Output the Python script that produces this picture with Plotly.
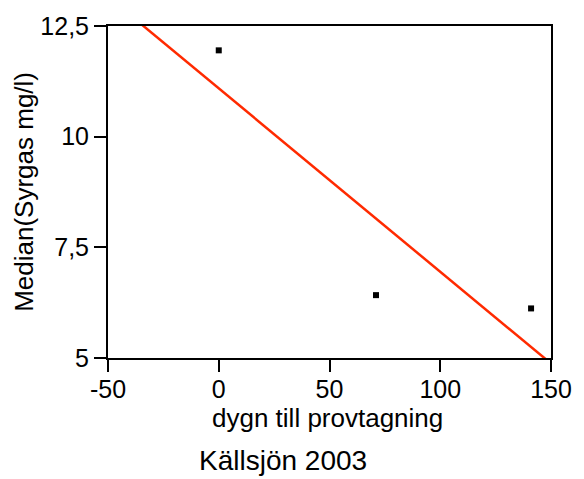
import numpy as np
import plotly.graph_objects as go

# Median dissolved oxygen vs. days until sampling
days = [0, 71, 141]
oxygen = [11.95, 6.42, 6.12]

x_ticks = [-50, 0, 50, 100, 150]
y_ticks = [5, 7.5, 10, 12.5]
y_tick_text = ["5", "7,5", "10", "12,5"]

# Least-squares trend line through the medians
slope, intercept = np.polyfit(days, oxygen, 1)
fit_x = np.array([-50, 150])
fit_y = slope * fit_x + intercept

font = "Liberation Sans, Arial, Helvetica, sans-serif"

fig = go.Figure()
fig.add_trace(go.Scatter(
    x=fit_x, y=fit_y, mode="lines",
    line=dict(color="#ff2a00", width=2.5),
    hoverinfo="skip", showlegend=False,
))
fig.add_trace(go.Scatter(
    x=days, y=oxygen, mode="markers",
    marker=dict(symbol="square", size=6, color="black"),
    showlegend=False,
))

axis_common = dict(
    showgrid=False, zeroline=False,
    showline=True, linecolor="black", linewidth=2, mirror=True,
    ticks="outside", ticklen=12, tickwidth=2, tickcolor="black",
    tickfont=dict(family=font, size=25, color="black"),
)

fig.update_xaxes(range=[-50, 150], tickvals=x_ticks, ticktext=[str(v) for v in x_ticks],
                 ticklabelstandoff=-4, **axis_common)
fig.update_yaxes(range=[5, 12.5], tickvals=y_ticks, ticktext=y_tick_text, **axis_common)

fig.update_layout(
    width=584, height=479,
    margin=dict(l=108, r=28, t=20, b=121),
    plot_bgcolor="white", paper_bgcolor="white",
    font=dict(family=font, color="black"),
    annotations=[
        dict(text="dygn till provtagning", xref="paper", yref="paper",
             x=0.495, y=-0.18, xanchor="center", yanchor="middle",
             showarrow=False, font=dict(size=26)),
        dict(text="Median(Syrgas mg/l)", xref="paper", yref="paper",
             x=-0.19, y=0.5, xanchor="center", yanchor="middle", textangle=-90,
             showarrow=False, font=dict(size=26)),
        dict(text="Källsjön 2003", xref="paper", yref="paper",
             x=0.396, y=-0.309, xanchor="center", yanchor="middle",
             showarrow=False, font=dict(size=28)),
    ],
)

fig.write_html("out.html")
